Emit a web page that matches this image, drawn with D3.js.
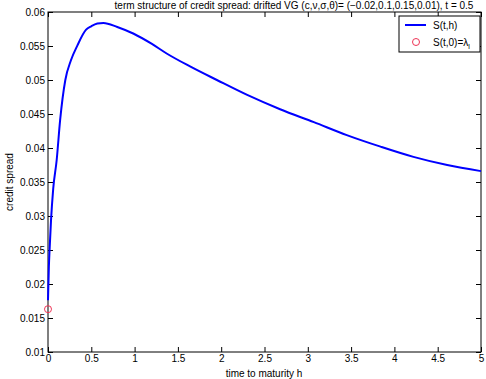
<!DOCTYPE html>
<html><head><meta charset="utf-8">
<script src="https://cdn.jsdelivr.net/npm/d3@7"></script>
<style>
body{margin:0;background:#fff;}
text{font-family:"Liberation Sans",Arial,Helvetica,sans-serif;fill:#000;}
</style></head>
<body><svg id="c" width="486" height="379"></svg>
<script>
const hVals = [0, 0.01, 0.02, 0.035, 0.06, 0.1, 0.14, 0.2, 0.265, 0.34, 0.44, 0.5, 0.57, 0.64, 0.8, 0.99, 1.2, 1.37, 1.64, 1.95, 2.3, 2.68, 3.07, 3.45, 3.84, 4.22, 4.61, 5];
const spread = [0.0176, 0.0225, 0.0255, 0.0294, 0.034, 0.0382, 0.0441, 0.050, 0.0529, 0.0551, 0.0574, 0.0579, 0.0583, 0.0584, 0.0578, 0.0568, 0.0553, 0.0539, 0.052, 0.050, 0.0478, 0.0457, 0.0438, 0.0419, 0.0402, 0.0387, 0.0375, 0.0366];
const lambdaPoint = [0, 0.0163];
const xTicks = [0, 0.5, 1, 1.5, 2, 2.5, 3, 3.5, 4, 4.5, 5];
const yTicks = [0.01, 0.015, 0.02, 0.025, 0.03, 0.035, 0.04, 0.045, 0.05, 0.055, 0.06];
const titleText = "term structure of credit spread: drifted VG (c,\u03bd,\u03c3,\u03b8)= (\u22120.02,0.1,0.15,0.01), t = 0.5";

const svg = d3.select("#c");
const L = 48, R = 481, T = 12, B = 352;
const x = d3.scaleLinear().domain([0, 5]).range([L, R]);
const y = d3.scaleLinear().domain([0.01, 0.06]).range([B, T]);
const fs = 10;

svg.append("rect").attr("x", L).attr("y", T).attr("width", R - L).attr("height", B - T)
  .attr("fill", "none").attr("stroke", "#000").attr("stroke-width", 1);

const tl = 5;
svg.append("g").attr("transform", `translate(0,${B})`)
  .call(d3.axisBottom(x).tickValues(xTicks).tickSize(-tl).tickPadding(3).tickFormat(d3.format("")))
  .call(g => g.select(".domain").remove())
  .call(g => g.selectAll("text").attr("font-size", fs));
svg.append("g").attr("transform", `translate(0,${T})`)
  .call(d3.axisTop(x).tickValues(xTicks).tickSize(-tl).tickFormat(""))
  .call(g => g.select(".domain").remove());
svg.append("g").attr("transform", `translate(${L},0)`)
  .call(d3.axisLeft(y).tickValues(yTicks).tickSize(-tl).tickPadding(3).tickFormat(d3.format("")))
  .call(g => g.select(".domain").remove())
  .call(g => g.selectAll("text").attr("font-size", fs));
svg.append("g").attr("transform", `translate(${R},0)`)
  .call(d3.axisRight(y).tickValues(yTicks).tickSize(-tl).tickFormat(""))
  .call(g => g.select(".domain").remove());
svg.selectAll(".tick line").attr("stroke", "#000");

const line = d3.line().x((d, i) => x(hVals[i])).y(d => y(d)).curve(d3.curveMonotoneX);
svg.append("path").datum(spread).attr("d", line)
  .attr("fill", "none").attr("stroke", "#0000ff").attr("stroke-width", 2);

svg.append("circle").attr("cx", x(lambdaPoint[0])).attr("cy", y(lambdaPoint[1])).attr("r", 3.5)
  .attr("fill", "none").attr("stroke", "#ee3355").attr("stroke-width", 1);

svg.append("text").attr("x", 294).attr("y", 9).attr("text-anchor", "middle")
  .attr("font-size", fs).text(titleText);
svg.append("text").attr("x", 264).attr("y", 377).attr("text-anchor", "middle")
  .attr("font-size", fs).text("time to maturity h");
svg.append("text").attr("transform", `translate(13,${(T + B) / 2}) rotate(-90)`).attr("text-anchor", "middle")
  .attr("font-size", fs).text("credit spread");

const lg = svg.append("g");
lg.append("rect").attr("x", 399).attr("y", 16).attr("width", 81).attr("height", 36)
  .attr("fill", "#fff").attr("stroke", "#000").attr("stroke-width", 1);
lg.append("line").attr("x1", 405).attr("x2", 426).attr("y1", 25).attr("y2", 25)
  .attr("stroke", "#0000ff").attr("stroke-width", 2);
lg.append("text").attr("x", 433).attr("y", 29).attr("font-size", fs).text("S(t,h)");
lg.append("circle").attr("cx", 416).attr("cy", 42).attr("r", 3.5)
  .attr("fill", "none").attr("stroke", "#ee3355").attr("stroke-width", 1);
const t2 = lg.append("text").attr("x", 433).attr("y", 46).attr("font-size", fs);
t2.append("tspan").text("S(t,0)=\u03bb");
t2.append("tspan").attr("dy", 3).attr("font-size", 7).text("l");
</script></body></html>
